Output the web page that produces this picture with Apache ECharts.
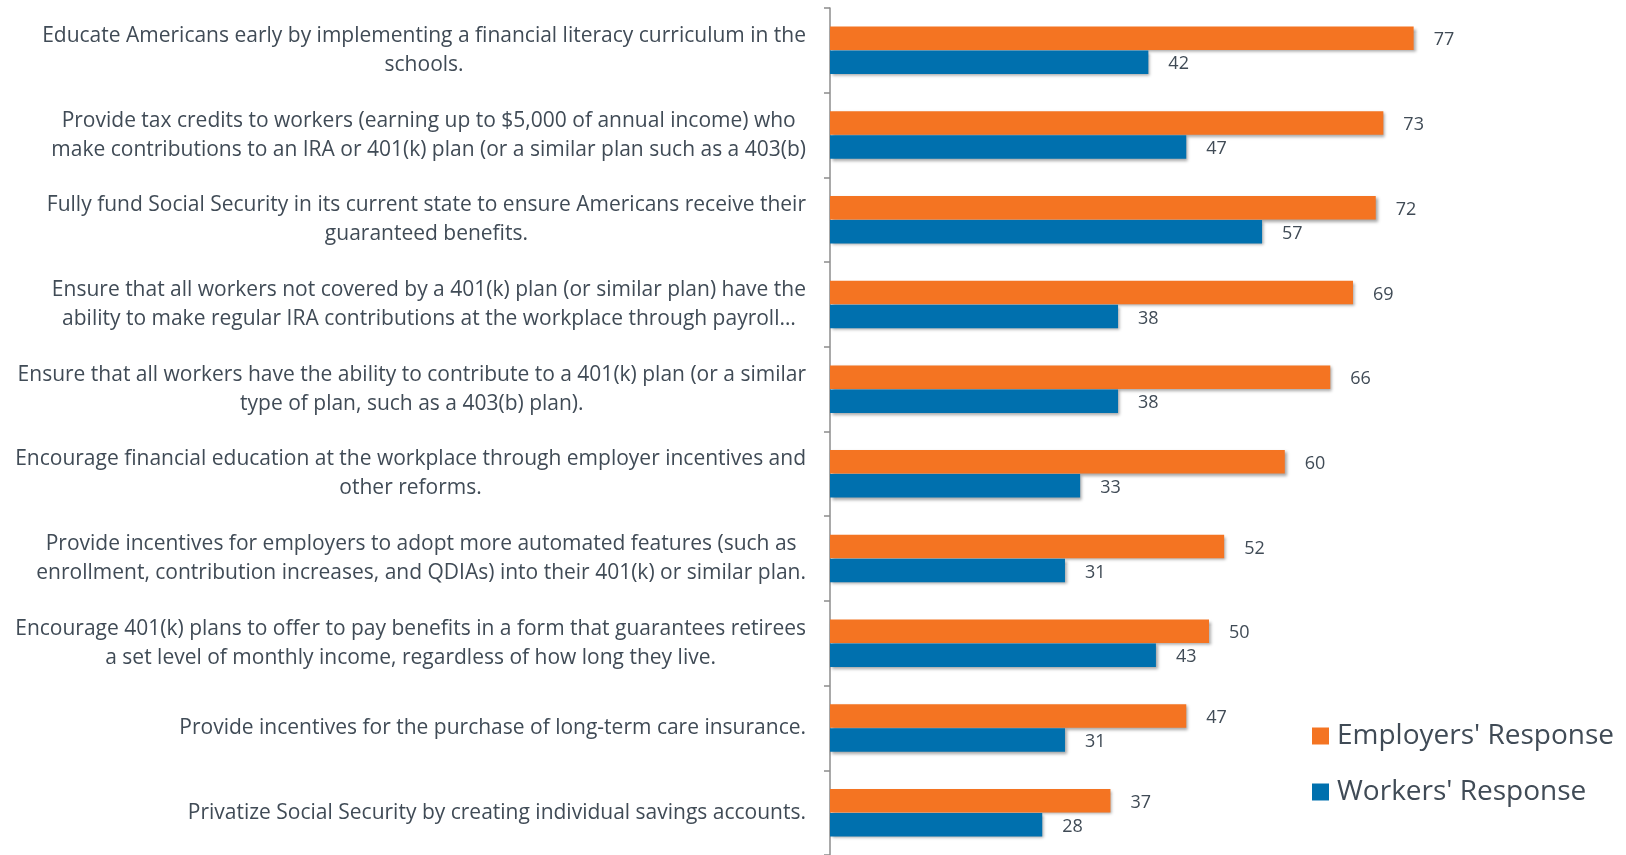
<!DOCTYPE html>
<html>
<head>
<meta charset="utf-8">
<script src="https://cdn.jsdelivr.net/npm/echarts@6/dist/echarts.min.js"></script>
<style>
  html, body { margin: 0; padding: 0; background: #fff; }
  #chart { width: 1626px; height: 855px; }
</style>
</head>
<body>
<div id="chart"></div>
<script>
// Policy options, listed top to bottom; each entry holds the wrapped lines of its label
const categories = [
  ['Educate Americans early by implementing a financial literacy curriculum in the', 'schools.'],
  ['Provide tax credits to workers (earning up to $5,000 of annual income) who', 'make contributions to an IRA or 401(k) plan (or a similar plan such as a 403(b)'],
  ['Fully fund Social Security in its current state to ensure Americans receive their', 'guaranteed benefits.'],
  ['Ensure that all workers not covered by a 401(k) plan (or similar plan) have the', 'ability to make regular IRA contributions at the workplace through payroll\u2026'],
  ['Ensure that all workers have the ability to contribute to a 401(k) plan (or a similar', 'type of plan, such as a 403(b) plan).'],
  ['Encourage financial education at the workplace through employer incentives and', 'other reforms.'],
  ['Provide incentives for employers to adopt more automated features (such as', 'enrollment, contribution increases, and QDIAs) into their 401(k) or similar plan.'],
  ['Encourage 401(k) plans to offer to pay benefits in a form that guarantees retirees', 'a set level of monthly income, regardless of how long they live.'],
  ['Provide incentives for the purchase of long-term care insurance.'],
  ['Privatize Social Security by creating individual savings accounts.']
];

const employers = [77, 73, 72, 69, 66, 60, 52, 50, 47, 37];
const workers = [42, 47, 57, 38, 38, 33, 31, 43, 31, 28];

const seriesNames = ["Employers' Response", "Workers' Response"];

const ORANGE = '#F47422';
const BLUE = '#0070AE';
const TEXT = '#404B56';
const FONT = '"Open Sans", Lato, sans-serif';

const chart = echarts.init(document.getElementById('chart'), null, { renderer: 'canvas' });

const barShadow = {
  shadowColor: 'rgba(0,0,0,0.35)',
  shadowBlur: 3,
  shadowOffsetX: 2,
  shadowOffsetY: 2
};

const valueLabel = {
  show: true,
  position: 'right',
  distance: 20,
  offset: [0, 2],
  color: TEXT,
  fontFamily: FONT,
  fontSize: 18
};

chart.setOption({
  animation: false,
  backgroundColor: '#ffffff',
  textStyle: { fontFamily: FONT },
  legend: {
    orient: 'vertical',
    left: 1307,
    top: 717,
    itemWidth: 17,
    itemHeight: 17,
    itemGap: 28,
    icon: 'rect',
    textStyle: { color: TEXT, fontSize: 28, fontFamily: FONT, padding: [0, 0, 0, 3] },
    data: seriesNames
  },
  grid: {
    left: 830,
    top: 8,
    width: 758,
    height: 848,
    containLabel: false
  },
  xAxis: {
    type: 'value',
    min: 0,
    max: 100,
    show: false
  },
  yAxis: {
    type: 'category',
    inverse: true,
    data: categories.map(c => c.join('\n')),
    axisLine: { show: true, lineStyle: { color: '#8C8C8C', width: 1.5 } },
    axisTick: { show: true, length: 6, lineStyle: { color: '#8C8C8C', width: 1.5 } },
    axisLabel: {
      margin: 24,
      color: TEXT,
      fontFamily: FONT,
      fontSize: 21,
      lineHeight: 29,
      formatter: function (v) {
        return v.split('\n').map(l => '{c|' + l + '}').join('\n');
      },
      rich: {
        c: { align: 'center', color: TEXT, fontFamily: FONT, fontSize: 21, lineHeight: 29 }
      }
    }
  },
  series: [
    {
      name: seriesNames[0],
      type: 'bar',
      data: employers,
      barWidth: 23.5,
      barGap: '2%',
      itemStyle: Object.assign({ color: ORANGE }, barShadow),
      label: valueLabel
    },
    {
      name: seriesNames[1],
      type: 'bar',
      data: workers,
      barWidth: 23.5,
      itemStyle: Object.assign({ color: BLUE }, barShadow),
      label: valueLabel
    }
  ]
});
</script>
</body>
</html>
